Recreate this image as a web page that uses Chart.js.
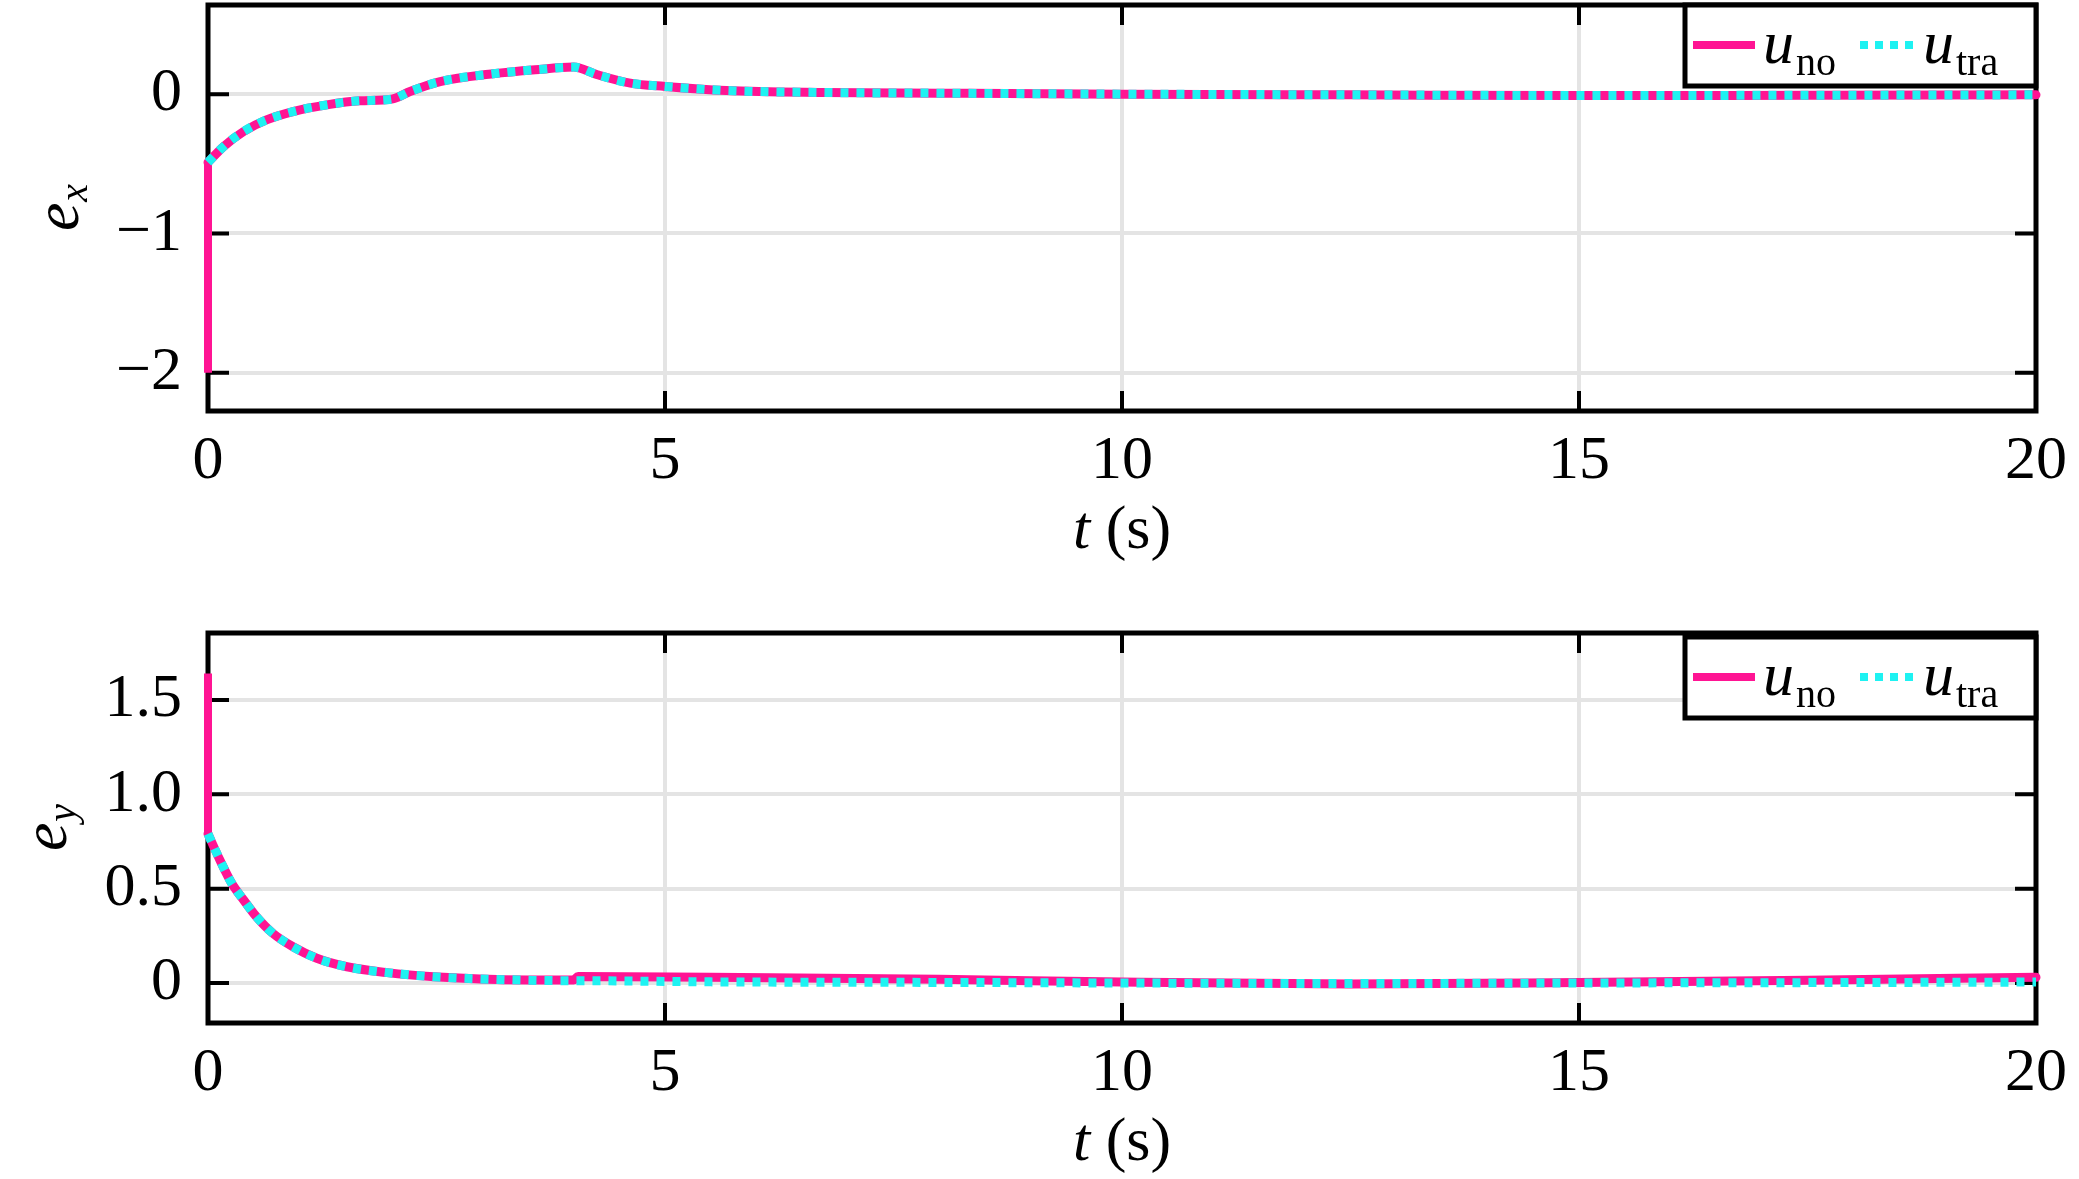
<!DOCTYPE html>
<html lang="en">
<head>
  <meta charset="UTF-8">
  <title>e_x, e_y tracking errors</title>
  <script src="https://cdn.jsdelivr.net/npm/chart.js"></script>
  <style>
    body {
      margin: 0;
      background: #ffffff;
      width: 2079px;
      height: 1179px;
      position: relative;
      overflow: hidden;
    }
    canvas {
      position: absolute;
      left: 0;
    }
    #exChart { top: 0; }
    #eyChart { top: 600px; }
  </style>
</head>
<body>
  <canvas id="exChart" width="2079" height="600"></canvas>
  <canvas id="eyChart" width="2079" height="579"></canvas>

  <script>
    // time axis
    const xTicks = [0, 5, 10, 15, 20];
    const xTickLabels = ['0', '5', '10', '15', '20'];

    // e_x panel
    const tEx = [0, 0.17, 0.39, 0.64, 0.93, 1.30, 1.66, 2.01, 2.21, 2.54, 3.12, 3.58, 4.0, 4.26, 4.62, 5.0, 5.67, 6.72, 8.0, 10, 12.5, 15, 17.5, 20];
    const exTra = [-0.49, -0.376, -0.268, -0.185, -0.125, -0.077, -0.048, -0.036, 0.019, 0.09, 0.146, 0.175, 0.194, 0.139, 0.079, 0.055, 0.026, 0.012, 0.007, 0.0, -0.005, -0.01, -0.008, -0.005];
    const exNo = [-0.49, -0.376, -0.268, -0.185, -0.125, -0.077, -0.048, -0.036, 0.019, 0.09, 0.146, 0.175, 0.194, 0.139, 0.079, 0.055, 0.026, 0.012, 0.007, 0.0, -0.005, -0.01, -0.008, -0.005];
    const exNoJump = [-2, -0.49];       // u_no initial value at t = 0
    const exTicks = [-2, -1, 0];
    const exTickLabels = ['\u22122', '\u22121', '0'];

    // e_y panel
    const tEy = [0, 0.13, 0.26, 0.39, 0.53, 0.71, 0.93, 1.19, 1.52, 1.96, 2.47, 3.16, 4.0, 4.05, 5.5, 8.0, 10, 12.5, 15, 17.5, 20];
    const eyTra = [0.79, 0.652, 0.528, 0.44, 0.351, 0.263, 0.192, 0.131, 0.086, 0.055, 0.033, 0.019, 0.012, 0.012, 0.006, 0.003, 0.0, -0.003, 0.0, 0.002, 0.005];
    const eyNo = [0.79, 0.652, 0.528, 0.44, 0.351, 0.263, 0.192, 0.131, 0.086, 0.055, 0.033, 0.019, 0.016, 0.035, 0.03, 0.02, 0.005, -0.005, 0.003, 0.015, 0.03];
    const eyNoJump = [1.64, 0.79];
    const eyTicks = [0, 0.5, 1.0, 1.5];
    const eyTickLabels = ['0', '0.5', '1.0', '1.5'];

    const pink = '#ff1493';
    const cyan = '#1ef2f2';
    const serif = "'Liberation Serif', 'Times New Roman', serif";

    const pts = (xs, ys) => xs.map((x, i) => ({ x: x, y: ys[i] }));

    // box, inward ticks, legend and axis titles drawn MATLAB style
    const framePlugin = {
      id: 'frame',
      beforeDatasetsDraw(chart) {
        const ctx = chart.ctx;
        const a = chart.chartArea;
        const xs = chart.scales.x, ys = chart.scales.y;
        ctx.save();
        ctx.strokeStyle = '#000';
        ctx.lineWidth = 4;
        ctx.beginPath();
        xs.ticks.forEach(t => {
          const px = xs.getPixelForValue(t.value);
          ctx.moveTo(px, a.bottom); ctx.lineTo(px, a.bottom - 20);
          ctx.moveTo(px, a.top); ctx.lineTo(px, a.top + 20);
        });
        ys.ticks.forEach(t => {
          const py = ys.getPixelForValue(t.value);
          ctx.moveTo(a.left, py); ctx.lineTo(a.left + 21, py);
          ctx.moveTo(a.right, py); ctx.lineTo(a.right - 21, py);
        });
        ctx.stroke();
        ctx.lineWidth = 5;
        ctx.strokeRect(a.left, a.top, a.right - a.left, a.bottom - a.top);
        ctx.restore();
      },
      afterDraw(chart, args, opts) {
        const ctx = chart.ctx;
        const a = chart.chartArea;
        ctx.save();

        // legend
        const w = 351, h = 81;
        const x0 = a.right - w, y0 = a.top + (opts.legendDy || 0);
        ctx.fillStyle = '#fff';
        ctx.fillRect(x0, y0, w, h);
        ctx.strokeStyle = '#000';
        ctx.lineWidth = 5;
        ctx.strokeRect(x0, y0, w, h);

        ctx.lineWidth = 8;
        ctx.strokeStyle = pink;
        ctx.beginPath();
        ctx.moveTo(x0 + 8, y0 + 40); ctx.lineTo(x0 + 70, y0 + 40);
        ctx.stroke();
        ctx.strokeStyle = cyan;
        ctx.setLineDash([8, 7]);
        ctx.beginPath();
        ctx.moveTo(x0 + 175, y0 + 40); ctx.lineTo(x0 + 233, y0 + 40);
        ctx.stroke();
        ctx.setLineDash([]);

        ctx.fillStyle = '#000';
        ctx.textBaseline = 'alphabetic';
        ctx.textAlign = 'left';
        const sub = (x, main, s) => {
          ctx.font = 'italic 62px ' + serif;
          ctx.fillText(main, x, y0 + 58);
          const mw = ctx.measureText(main).width;
          ctx.font = '40px ' + serif;
          ctx.fillText(s, x + mw + 2, y0 + 70);
        };
        sub(x0 + 78, 'u', 'no');
        sub(x0 + 238, 'u', 'tra');

        // x title: t (s)
        const cx = (a.left + a.right) / 2;
        const by = a.bottom + 137;
        ctx.font = 'italic 62px ' + serif;
        const tw = ctx.measureText('t').width;
        ctx.font = '62px ' + serif;
        const sw = ctx.measureText(' (s)').width;
        const sx = cx - (tw + sw) / 2;
        ctx.font = 'italic 62px ' + serif;
        ctx.fillText('t', sx, by);
        ctx.font = '62px ' + serif;
        ctx.fillText(' (s)', sx + tw, by);

        // y title: e with subscript
        ctx.translate(opts.titleX, (a.top + a.bottom) / 2);
        ctx.rotate(-Math.PI / 2);
        ctx.font = 'italic 64px ' + serif;
        const ew = ctx.measureText('e').width;
        ctx.font = 'italic 40px ' + serif;
        const qw = ctx.measureText(opts.sub).width;
        const ex0 = -(ew + qw) / 2;
        ctx.font = 'italic 64px ' + serif;
        ctx.fillText('e', ex0, 0);
        ctx.font = 'italic 40px ' + serif;
        ctx.fillText(opts.sub, ex0 + ew + 1, 9);
        ctx.restore();
      }
    };

    function makeChart(id, cfg) {
      return new Chart(document.getElementById(id), {
        type: 'line',
        data: {
          datasets: [
            {
              label: 'u_tra',
              data: pts(cfg.t, cfg.tra),
              borderColor: cyan,
              borderWidth: 9,
              borderDash: [8, 8],
              borderCapStyle: 'butt',
              cubicInterpolationMode: 'monotone',
              pointRadius: 0,
              clip: 10
            },
            {
              label: 'u_no',
              data: pts(cfg.t, cfg.no),
              borderColor: pink,
              borderWidth: 9,
              borderCapStyle: 'round',
              cubicInterpolationMode: 'monotone',
              pointRadius: 0,
              clip: 10
            },
            {
              label: 'u_no start',
              data: pts([0, 0], cfg.jump),
              borderColor: pink,
              borderWidth: 8,
              borderCapStyle: 'butt',
              tension: 0,
              pointRadius: 0,
              clip: 10
            }
          ]
        },
        options: {
          responsive: false,
          animation: false,
          events: [],
          layout: { padding: { top: cfg.padTop, right: 43, left: 0, bottom: 0 } },
          plugins: {
            legend: { display: false },
            tooltip: { enabled: false },
            frame: { sub: cfg.sub, legendDy: cfg.legendDy, titleX: cfg.titleX }
          },
          scales: {
            x: {
              type: 'linear',
              min: 0,
              max: 20,
              afterBuildTicks: s => { s.ticks = xTicks.map(v => ({ value: v })); },
              afterFit: s => {
                s.height = cfg.xHeight;
                s.paddingLeft = 0;
                s.paddingRight = 0;
              },
              grid: { color: '#e4e4e4', lineWidth: 4, drawTicks: false },
              border: { display: false },
              ticks: {
                padding: 14,
                color: '#000',
                font: { family: serif, size: 62 },
                maxRotation: 0,
                callback: (v, i) => xTickLabels[i]
              }
            },
            y: {
              type: 'linear',
              min: cfg.yMin,
              max: cfg.yMax,
              afterBuildTicks: s => { s.ticks = cfg.yTicks.map(v => ({ value: v })); },
              afterFit: s => {
                s.width = 208;
                s.paddingTop = 0;
                s.paddingBottom = 0;
              },
              grid: { color: '#e4e4e4', lineWidth: 4, drawTicks: false },
              border: { display: false },
              ticks: {
                padding: 26,
                color: '#000',
                font: { family: serif, size: 62 },
                callback: (v, i) => cfg.yLabels[i]
              }
            }
          }
        },
        plugins: [framePlugin]
      });
    }

    makeChart('exChart', {
      t: tEx, tra: exTra, no: exNo, jump: exNoJump,
      yMin: -2.275, yMax: 0.64, yTicks: exTicks, yLabels: exTickLabels,
      padTop: 5, xHeight: 189, sub: 'x', legendDy: 0, titleX: 78
    });

    makeChart('eyChart', {
      t: tEy, tra: eyTra, no: eyNo, jump: eyNoJump,
      yMin: -0.212, yMax: 1.855, yTicks: eyTicks, yLabels: eyTickLabels,
      padTop: 33, xHeight: 156, sub: 'y', legendDy: 4, titleX: 66
    });
  </script>
</body>
</html>
